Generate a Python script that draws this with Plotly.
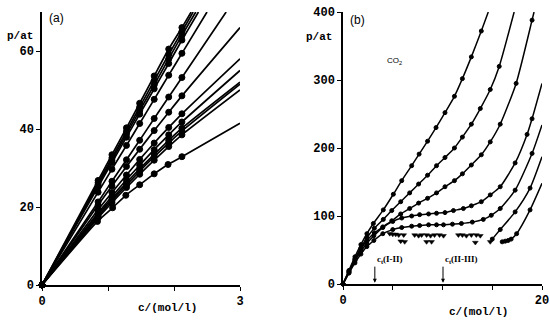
import plotly.graph_objects as go

# ---------------- Panel (a) data: c/(mol/l) vs p/at ----------------
a_c_bundle = [0, 0.85, 1.06, 1.28, 1.48, 1.70, 1.92, 2.12]
a1_c = a_c_bundle + [2.26]
a1_p = [0, 26.8, 33.4, 40.3, 46.6, 53.6, 60.5, 66.0, 70]
a2_c = a_c_bundle + [2.29]
a2_p = [0, 26.2, 32.6, 39.4, 45.6, 52.4, 59.1, 65.0, 70]
a3_c = a_c_bundle + [2.33]
a3_p = [0, 25.7, 32.0, 38.7, 44.7, 51.3, 58.0, 64.0, 70]
a4_c = a_c_bundle + [2.37]
a4_p = [0, 25.2, 31.4, 37.9, 43.8, 50.3, 56.8, 62.8, 70]
a5_c = a_c_bundle + [2.5]
a5_p = [0, 23.8, 29.7, 35.8, 41.4, 47.6, 53.8, 59.4, 70]
a6_c = a_c_bundle + [2.79]
a6_p = [0, 21.3, 26.6, 32.1, 37.1, 42.7, 48.2, 53.2, 70]
a7_c = a_c_bundle + [3.0]
a7_p = [0, 20.5, 25.4, 30.4, 34.8, 39.6, 44.3, 48.5, 66]
a8_c = a_c_bundle + [3.0]
a8_p = [0, 19.3, 23.7, 28.2, 32.2, 36.4, 40.4, 43.9, 58]
a9_c = a_c_bundle + [3.0]
a9_p = [0, 18.5, 22.7, 27.0, 30.7, 34.7, 38.5, 41.8, 55]
a10_c = a_c_bundle + [3.0]
a10_p = [0, 18.1, 22.1, 26.2, 29.8, 33.5, 37.1, 40.2, 52]
a11_c = a_c_bundle + [3.0]
a11_p = [0, 17.6, 21.6, 25.6, 29.2, 32.9, 36.4, 39.5, 51.5]
a12_c = a_c_bundle + [3.0]
a12_p = [0, 17.2, 21.1, 25.0, 28.4, 32.0, 35.5, 38.5, 50]
a13_c = [0, 0.84, 1.07, 1.27, 1.48, 1.70, 1.91, 2.12, 3.0]
a13_p = [0, 16.3, 19.8, 23.0, 25.7, 28.5, 30.9, 32.9, 41.5]

a_series = [(a1_c, a1_p), (a2_c, a2_p), (a3_c, a3_p), (a4_c, a4_p), (a5_c, a5_p),
            (a6_c, a6_p), (a7_c, a7_p), (a8_c, a8_p), (a9_c, a9_p), (a10_c, a10_p),
            (a11_c, a11_p), (a12_c, a12_p), (a13_c, a13_p)]

# ---------------- Panel (b) data: CO2 ----------------
b1_c = [0, 0.6, 1.2, 1.8, 2.4, 3.05, 4.05, 5.06, 5.9, 6.9, 7.65, 8.5, 9.35, 10.25, 11.2, 12.0, 12.9, 13.9, 14.6]
b1_p = [0, 20, 40, 58, 74, 89, 109, 132, 152, 174, 191, 210, 230, 252, 276, 302, 334, 372, 400]
b2_c = [0, 0.6, 1.2, 1.8, 2.4, 3.15, 4.05, 4.9, 5.8, 6.7, 7.6, 8.5, 9.4, 10.25, 11.2, 12.0, 12.9, 13.8, 14.8, 15.7, 17.2]
b2_p = [0, 19, 37, 53, 68, 82, 95, 108, 121, 134, 147, 160, 174, 186, 200, 216, 235, 258, 286, 320, 400]
b3_c = [0, 0.6, 1.2, 1.8, 2.4, 3.15, 4.0, 4.9, 5.8, 6.7, 7.6, 8.5, 9.4, 10.25, 11.2, 12.0, 12.9, 13.9, 14.8, 15.8, 17.4, 19.0, 19.2]
b3_p = [0, 18, 36, 51, 64, 75, 84, 93, 103, 111, 119, 126, 134, 143, 152, 162, 175, 190, 209, 235, 295, 388, 400]
b4_c = [0, 0.6, 1.2, 1.8, 2.4, 3.1, 4.0, 5.0, 5.9, 6.9, 7.7, 8.6, 9.4, 10.25, 11.1, 12.1, 12.9, 13.9, 14.8, 15.8, 17.3, 18.5, 19.0, 20.0]
b4_p = [0, 17, 34, 48, 60, 71, 83, 92, 97, 100, 102, 103, 104, 105, 108, 111, 115, 121, 131, 143, 178, 220, 243, 295]
b5_c = [0, 0.6, 1.2, 1.8, 2.4, 3.1, 4.0, 5.0, 5.9, 6.9, 7.7, 8.6, 9.4, 10.1, 11.0, 11.9, 13.0, 14.1, 14.9, 15.8, 17.3, 19.0, 20.0]
b5_p = [0, 16, 31, 44, 55, 64, 74, 80, 83, 85, 86, 87, 87, 87, 88, 89, 91, 95, 101, 111, 138, 192, 234]
b6_c = [15.0, 15.8, 17.3, 18.8, 20.0]
b6_p = [66, 80, 106, 141, 187]
b7_c = [16.0, 16.3, 16.6, 16.9, 17.45, 18.8, 20.0]
b7_p = [62, 63, 64, 66, 74, 109, 148]
b_series = [(b1_c, b1_p), (b2_c, b2_p), (b3_c, b3_p), (b4_c, b4_p), (b5_c, b5_p),
            (b6_c, b6_p), (b7_c, b7_p)]

tri1_c = [4.7, 5.0, 5.3, 5.6, 6.1, 7.2, 7.6, 7.9, 8.4, 8.8, 9.2, 9.7, 10.1, 11.6, 12.0, 12.4, 12.9, 13.4, 13.8]
tri1_p = [74, 73, 73, 72, 72, 72, 71, 72, 72, 71, 72, 72, 71, 72, 72, 71, 72, 72, 71]
tri2_c = [5.8, 6.2, 8.4, 8.9, 13.3, 14.8]
tri2_p = [63, 62, 62, 62, 61, 62]

a_yticks = [0, 20, 40, 60]
a_xticks = [0, 3]
a_xminor = [1, 2]
b_yticks = [0, 100, 200, 300, 400]
b_xticks = [0, 20]
b_xminor = [5, 10, 15]

W, H = 550, 320
fig = go.Figure()

for cs, ps in a_series:
    fig.add_trace(go.Scatter(x=cs, y=ps, mode="lines", xaxis="x", yaxis="y",
                             line=dict(color="black", width=1.7, shape="spline", smoothing=0.6),
                             cliponaxis=False, showlegend=False, hoverinfo="skip"))
    fig.add_trace(go.Scatter(x=cs[:-1], y=ps[:-1], mode="markers", xaxis="x", yaxis="y",
                             marker=dict(color="#000000", size=6, opacity=1,
                                         line=dict(width=1, color="#000000")),
                             opacity=1, cliponaxis=False, showlegend=False, hoverinfo="skip"))

for cs, ps in b_series:
    fig.add_trace(go.Scatter(x=cs, y=ps, mode="lines", xaxis="x2", yaxis="y2",
                             line=dict(color="black", width=1.5, shape="spline", smoothing=0.6),
                             cliponaxis=False, showlegend=False, hoverinfo="skip"))
    fig.add_trace(go.Scatter(x=cs[:-1], y=ps[:-1], mode="markers", xaxis="x2", yaxis="y2",
                             marker=dict(color="#000000", size=4, opacity=1,
                                         line=dict(width=1, color="#000000")),
                             opacity=1, cliponaxis=False, showlegend=False, hoverinfo="skip"))

for cs, ps in [(tri1_c, tri1_p), (tri2_c, tri2_p)]:
    fig.add_trace(go.Scatter(x=cs, y=ps, mode="markers", xaxis="x2", yaxis="y2",
                             marker=dict(color="black", size=5, symbol="triangle-down",
                                         line=dict(width=0.5, color="black")),
                             cliponaxis=False, showlegend=False, hoverinfo="skip"))

tickfont = dict(family="Liberation Mono, Courier New, monospace", size=12, color="black", weight="bold")
axis_common = dict(showgrid=False, zeroline=False, showline=True, linecolor="black", linewidth=1.5,
                   ticks="outside", ticklen=4, tickwidth=1, tickcolor="black", tickfont=tickfont,
                   ticklabeloverflow="allow", automargin=False)

fig.update_layout(
    template="none",
    width=W, height=H,
    margin=dict(l=0, r=0, t=0, b=0, autoexpand=False),
    paper_bgcolor="white", plot_bgcolor="white",
    xaxis=dict(domain=[42 / W, 240 / W], range=[0, 3], tickvals=a_xticks, anchor="y",
               minor=dict(tickvals=a_xminor, ticks="outside", ticklen=4, tickwidth=1, tickcolor="black", showgrid=False),
               **axis_common),
    yaxis=dict(domain=[1 - 285 / H, 1 - 12 / H], range=[0, 70], tickvals=a_yticks,
               anchor="x", **axis_common),
    xaxis2=dict(domain=[343 / W, 542 / W], range=[0, 20], tickvals=b_xticks, anchor="y2",
                minor=dict(tickvals=b_xminor, ticks="outside", ticklen=4, tickwidth=1, tickcolor="black", showgrid=False),
                **axis_common),
    yaxis2=dict(domain=[1 - 284 / H, 1 - 12 / H], range=[0, 400], tickvals=b_yticks,
                anchor="x2", **axis_common),
)

mono = dict(family="Liberation Mono, Courier New, monospace", size=11, color="black", weight="bold")
sans = dict(family="Liberation Sans, Arial, sans-serif", size=12, color="black")
serif = dict(family="Liberation Serif, Times New Roman, serif", size=9, color="black", weight="bold")

def paper_text(text, px, py, font, xanchor="center"):
    fig.add_annotation(text=text, x=px / W, y=1 - py / H, xref="paper", yref="paper",
                       showarrow=False, font=font, xanchor=xanchor, yanchor="middle")

paper_text("p/at", 20, 36, mono)
paper_text("p/at", 319, 37, mono)
paper_text("c/(mol/l)", 167, 308, mono)
paper_text("c/(mol/l)", 479, 312, mono)
paper_text("(a)", 56, 18, sans)
paper_text("(b)", 357, 20, sans)

fig.add_annotation(text="CO<sub>2</sub>", x=5.2, y=328, xref="x2", yref="y2", showarrow=False,
                   font=dict(family="Liberation Sans, Arial, sans-serif", size=8, color="black"))

for cx, label in [(3.2, "c<sub>t</sub>(I-II)"), (10.05, "c<sub>t</sub>(II-III)")]:
    fig.add_annotation(text=label, x=cx, y=2, xref="x2", yref="y2", ax=0, ay=-16, showarrow=True,
                       arrowhead=2, arrowsize=0.8, arrowwidth=1, arrowcolor="black",
                       xanchor="left", yanchor="bottom", font=serif)

fig.write_html("out.html", config={"displayModeBar": False},
               post_script="document.body.style.margin='0px';")
